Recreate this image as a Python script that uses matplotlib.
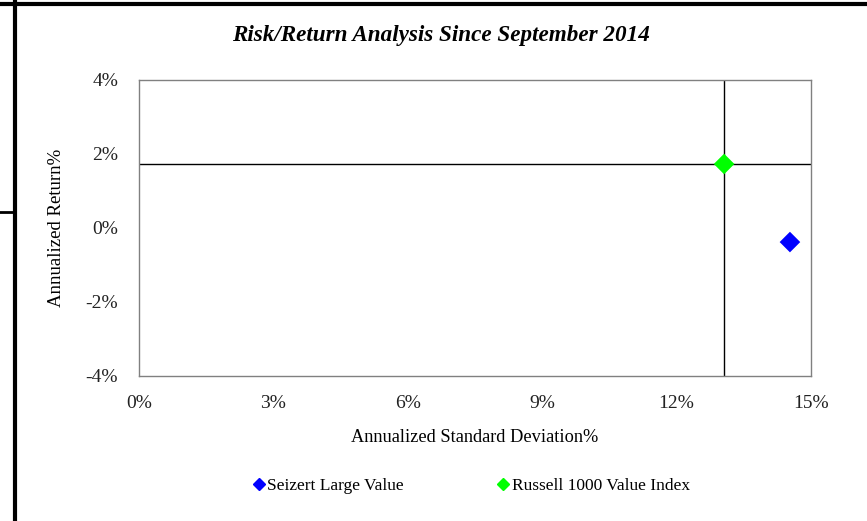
import matplotlib.pyplot as plt
from matplotlib.lines import Line2D
from matplotlib.ticker import FuncFormatter

plt.rcParams['font.family'] = 'Liberation Serif'

names = ['Seizert Large Value', 'Russell 1000 Value Index']
std_dev = [14.53, 13.06]
ret = [-0.38, 1.73]
colors = ['#0000ff', '#00ff00']
xticks = [0, 3, 6, 9, 12, 15]
yticks = [-4, -2, 0, 2, 4]

fig = plt.figure(figsize=(8.67, 5.21), dpi=100)
ax = fig.add_axes([139/867, 1 - 376/521, 672/867, 296/521])

# crosshair at the benchmark
ax.axvline(std_dev[1], color='black', lw=1, zorder=1)
ax.axhline(ret[1], color='black', lw=1, zorder=1)

for x, y, c in zip(std_dev, ret, colors):
    ax.scatter([x], [y], marker='D', s=110, color=c, edgecolors='none', zorder=3)

ax.set_xlim(0, 15)
ax.set_ylim(-4, 4)
ax.set_xticks(xticks)
ax.set_yticks(yticks)
ax.xaxis.set_major_formatter(FuncFormatter(lambda v, p: '%d%%' % v))
ax.yaxis.set_major_formatter(FuncFormatter(lambda v, p: '%d%%' % v))
ax.tick_params(length=0, labelsize=14, colors='#222222')
ax.tick_params(axis='x', pad=14)
ax.tick_params(axis='y', pad=15)
for s in ax.spines.values():
    s.set_color('#808080')
    s.set_linewidth(1)

ax.set_xlabel('Annualized Standard Deviation%', fontsize=13.2, labelpad=12)
ax.set_ylabel('Annualized Return%', fontsize=13.5, labelpad=15)
fig.text(441/867, 1 - 35/521, 'Risk/Return Analysis Since September 2014',
         ha='center', va='center', fontsize=16.7, fontweight='bold', style='italic')

handles = [Line2D([], [], marker='D', ls='none', color=c, markersize=6) for c in colors]
fig.legend(handles, names, loc='center', bbox_to_anchor=(470/867, 1 - 486/521),
           ncol=2, frameon=False, fontsize=12.5, handletextpad=0.0,
           columnspacing=5.2, handlelength=1.0)

# page border lines
fig.add_artist(Line2D([0, 1], [1 - 4/521] * 2, color='black', lw=3))
fig.add_artist(Line2D([15/867] * 2, [0, 1], color='black', lw=3))
fig.add_artist(Line2D([0, 15/867], [1 - 212/521] * 2, color='black', lw=2))

fig.savefig('out.png', dpi=100)
